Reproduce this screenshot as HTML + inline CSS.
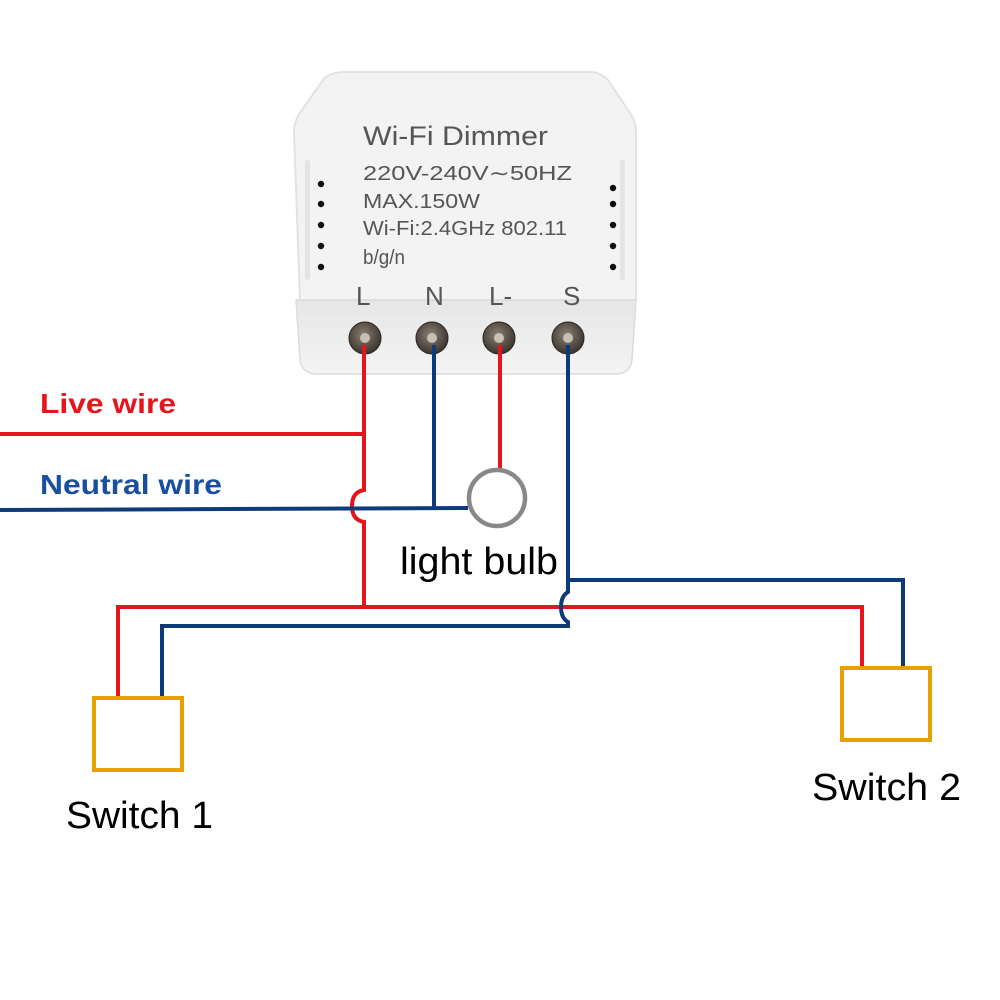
<!DOCTYPE html>
<html><head><style>
html,body{margin:0;padding:0;background:#fff;width:1000px;height:1000px;overflow:hidden}
svg{display:block}
</style></head><body>
<svg width="1000" height="1000" viewBox="0 0 1000 1000" xmlns="http://www.w3.org/2000/svg">
<defs>
<linearGradient id="bot" x1="0" y1="0" x2="0" y2="1">
<stop offset="0" stop-color="#e6e6e6"/><stop offset="1" stop-color="#f4f4f4"/>
</linearGradient>
<radialGradient id="scr" cx="0.45" cy="0.4" r="0.6">
<stop offset="0" stop-color="#8a8074"/><stop offset="1" stop-color="#3a342e"/>
</radialGradient>
</defs>
<path d="M345,72 L590,72 Q600,72 608,80 L628,110 Q636,120 636,132 L636,300 L300,300 L294,132 Q294,120 302,110 L323,80 Q330,72 345,72 Z" fill="#f3f3f3" stroke="#e2e2e2" stroke-width="2"/>
<path d="M296,300 L636,300 L632,360 Q630,374 615,374 L318,374 Q302,374 300,360 Z" fill="url(#bot)" stroke="#dcdcdc" stroke-width="1.5"/>
<rect x="305" y="160" width="5" height="120" rx="2.5" fill="#e4e4e4"/>
<rect x="620" y="160" width="5" height="120" rx="2.5" fill="#e4e4e4"/>
<g fill="#111">
<circle cx="321" cy="184" r="3.2"/><circle cx="321" cy="204" r="3.2"/><circle cx="321" cy="225" r="3.2"/><circle cx="321" cy="246" r="3.2"/><circle cx="321" cy="267" r="3.2"/>
<circle cx="613" cy="188" r="3.2"/><circle cx="613" cy="204" r="3.2"/><circle cx="613" cy="225" r="3.2"/><circle cx="613" cy="246" r="3.2"/><circle cx="613" cy="267" r="3.2"/>
</g>
<g font-family="Liberation Sans, sans-serif" fill="#555">
<text x="363" y="145" font-size="27" textLength="185" lengthAdjust="spacingAndGlyphs">Wi-Fi  Dimmer</text>
<text x="363" y="180" font-size="20" textLength="209" lengthAdjust="spacingAndGlyphs">220V-240V∼50HZ</text>
<text x="363" y="208" font-size="20" textLength="117" lengthAdjust="spacingAndGlyphs">MAX.150W</text>
<text x="363" y="235" font-size="20" textLength="204" lengthAdjust="spacingAndGlyphs">Wi-Fi:2.4GHz 802.11</text>
<text x="363" y="264" font-size="20" textLength="42" lengthAdjust="spacingAndGlyphs">b/g/n</text>
<text x="356" y="305" font-size="26">L</text>
<text x="425" y="305" font-size="26">N</text>
<text x="489" y="305" font-size="26">L-</text>
<text x="563" y="305" font-size="26">S</text>
</g>
<g stroke="#2a2520" stroke-width="1">
<circle cx="365" cy="338" r="16" fill="url(#scr)"/>
<circle cx="432" cy="338" r="16" fill="url(#scr)"/>
<circle cx="499" cy="338" r="16" fill="url(#scr)"/>
<circle cx="568" cy="338" r="16" fill="url(#scr)"/>
</g>
<g fill="#c9c0b4"><circle cx="365" cy="338" r="5"/><circle cx="432" cy="338" r="5"/><circle cx="499" cy="338" r="5"/><circle cx="568" cy="338" r="5"/></g>
<g fill="none" stroke-width="4">
<path d="M0,434 L364,434" stroke="#e8141c"/>
<path d="M364,345 L364,490 Q352,492 352,506 Q352,520 364,522 L364,607" stroke="#e8141c"/>
<path d="M0,510 L468,508" stroke="#0d3b7a"/>
<path d="M434,345 L434,508" stroke="#0d3b7a"/>
<path d="M500,345 L500,469" stroke="#e8141c"/>
<path d="M118,698 L118,607 L862,607 L862,668" stroke="#e8141c"/>
<path d="M568,345 L568,580 L903,580 L903,668" stroke="#0d3b7a"/>
<path d="M568,580 L568,592 Q561,596 561,607 Q561,618 568,622 L568,626 L162,626 L162,698" stroke="#0d3b7a"/>
</g>
<circle cx="497" cy="498" r="28" fill="#fff" stroke="#888" stroke-width="4.5"/>
<rect x="94" y="698" width="88" height="72" fill="none" stroke="#e8a000" stroke-width="4"/>
<rect x="842" y="668" width="88" height="72" fill="none" stroke="#e8a000" stroke-width="4"/>
<g font-family="Liberation Sans, sans-serif">
<text x="40" y="413" font-size="28" font-weight="bold" fill="#e8141c" textLength="136" lengthAdjust="spacingAndGlyphs">Live wire</text>
<text x="40" y="494" font-size="28" font-weight="bold" fill="#1a4fa0" textLength="182" lengthAdjust="spacingAndGlyphs">Neutral wire</text>
<text x="400" y="574" font-size="38" fill="#000" textLength="158" lengthAdjust="spacingAndGlyphs">light bulb</text>
<text x="66" y="828" font-size="38" fill="#000" textLength="147" lengthAdjust="spacingAndGlyphs">Switch 1</text>
<text x="812" y="800" font-size="38" fill="#000" textLength="149" lengthAdjust="spacingAndGlyphs">Switch 2</text>
</g>
</svg>
</body></html>
